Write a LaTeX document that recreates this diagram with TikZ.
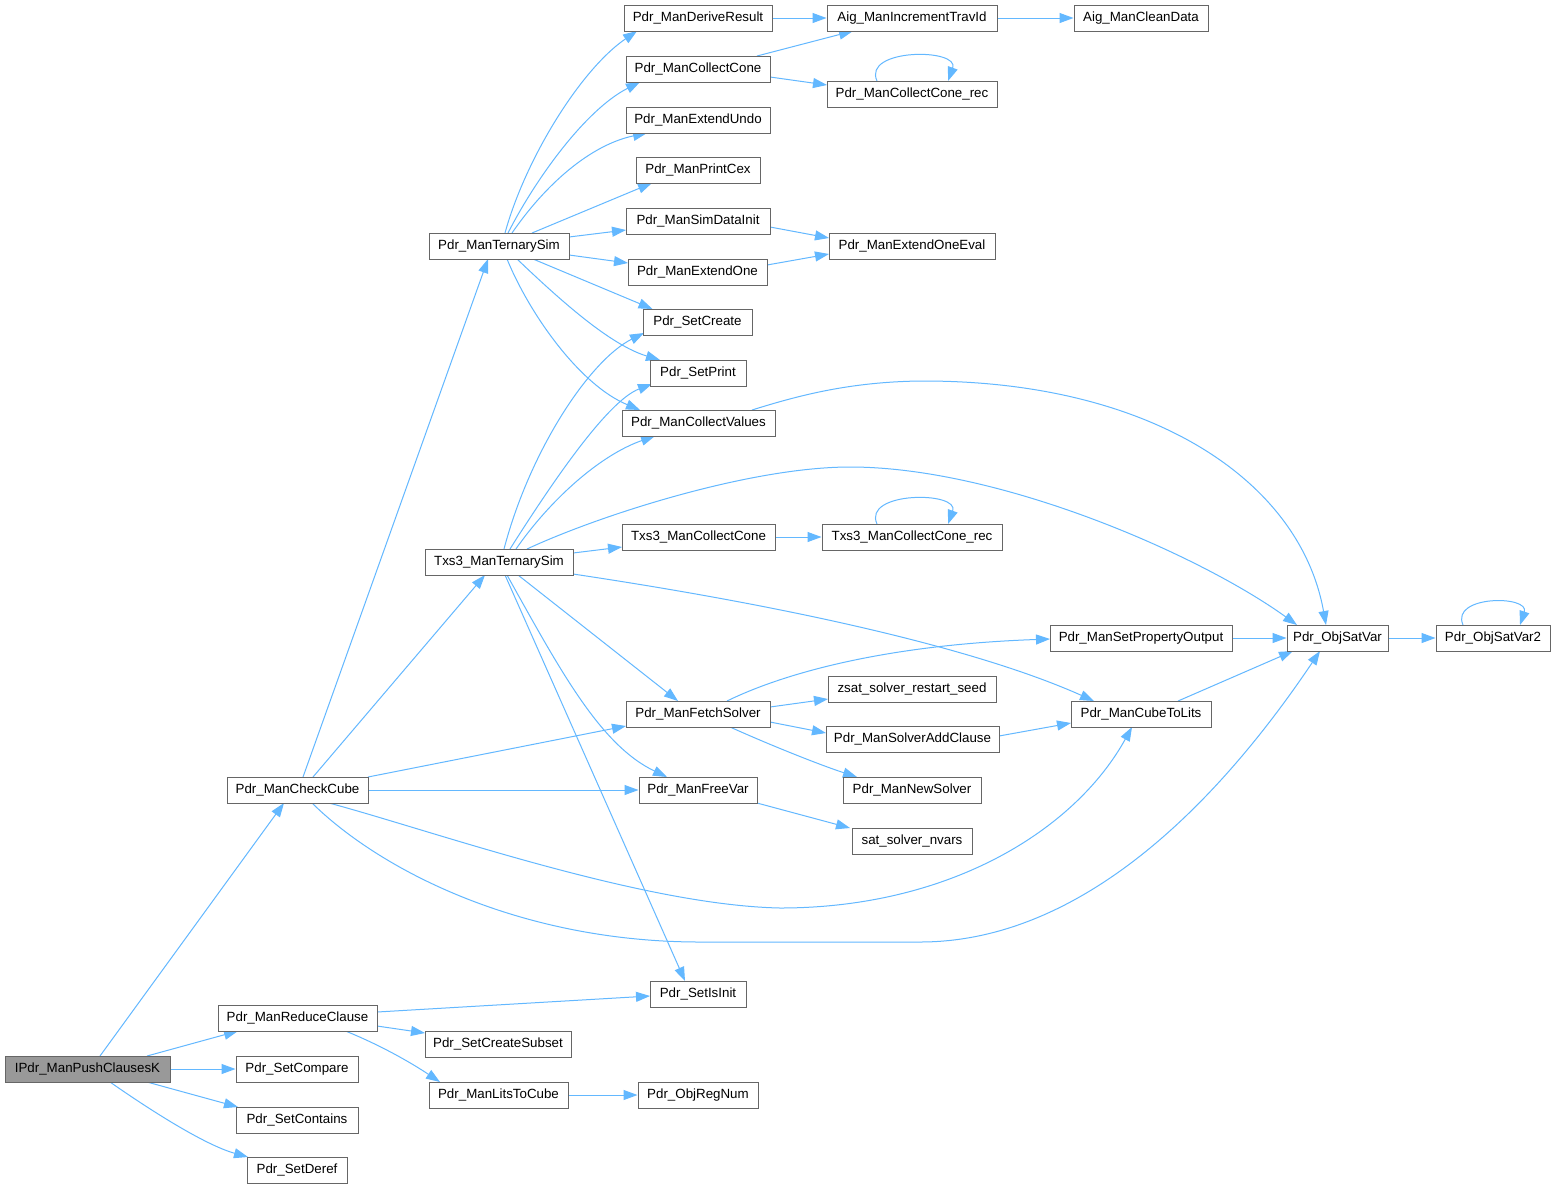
\documentclass[tikz,border=0pt]{standalone}
\usepackage{fontspec}
\setmainfont{Liberation Sans}
\usetikzlibrary{arrows.meta}
\definecolor{edgec}{HTML}{63B8FF}
\definecolor{nodeb}{HTML}{666666}
\definecolor{rootf}{HTML}{999999}
\pgfdeclarelayer{back}
\pgfdeclarelayer{bg}
\pgfsetlayers{back,bg,main}
\begin{document}
\begin{tikzpicture}[x=0.75pt,y=-0.75pt,
  box/.style={draw=nodeb, line width=0.75pt, fill=white, minimum height=19.5pt, inner sep=0pt,
    font=\fontsize{10pt}{12pt}\selectfont, text=black},
  root/.style={box, fill=rootf},
  W/.style={minimum width=#1*0.75pt},
  edge/.style={draw=edgec, line width=0.75pt, -{Triangle[length=10.5pt,width=7.5pt]}}]
\begin{pgfonlayer}{back}
\useasboundingbox[fill=white] (0,0) rectangle (1555,1189);
\end{pgfonlayer}

% nodes
\node[root,W=165] (n0) at (87.5,1069) {IPdr\_ManPushClausesK};
\node[box,W=141] (cc) at (297.5,790) {Pdr\_ManCheckCube};
\node[box,W=159] (rc) at (297.5,1018) {Pdr\_ManReduceClause};
\node[box,W=122] (scmp) at (297,1069) {Pdr\_SetCompare};
\node[box,W=122] (scont) at (297,1120) {Pdr\_SetContains};
\node[box,W=100] (sder) at (297,1170) {Pdr\_SetDeref};
\node[box,W=140] (ts) at (499,246) {Pdr\_ManTernarySim};
\node[box,W=148] (t3) at (499,562) {Txs3\_ManTernarySim};
\node[box,W=148] (dr) at (698,18) {Pdr\_ManDeriveResult};
\node[box,W=144] (pcc) at (698,69) {Pdr\_ManCollectCone};
\node[box,W=144] (eu) at (698,120) {Pdr\_ManExtendUndo};
\node[box,W=124] (pc) at (698,170) {Pdr\_ManPrintCex};
\node[box,W=144] (sdi) at (698,221) {Pdr\_ManSimDataInit};
\node[box,W=139] (eo) at (697.5,272) {Pdr\_ManExtendOne};
\node[box,W=109] (scr) at (697.5,322) {Pdr\_SetCreate};
\node[box,W=96] (spr) at (698,373) {Pdr\_SetPrint};
\node[box,W=153] (cv) at (698.5,423) {Pdr\_ManCollectValues};
\node[box,W=153] (tcc) at (698.5,537) {Txs3\_ManCollectCone};
\node[box,W=144] (fs) at (698,714) {Pdr\_ManFetchSolver};
\node[box,W=118] (fv) at (698,790) {Pdr\_ManFreeVar};
\node[box,W=96] (sii) at (698,994) {Pdr\_SetIsInit};
\node[box,W=146] (scs) at (498,1044) {Pdr\_SetCreateSubset};
\node[box,W=139] (ltc) at (498.5,1095) {Pdr\_ManLitsToCube};
\node[box,W=120] (orn) at (698,1095) {Pdr\_ObjRegNum};
\node[box,W=170] (ait) at (912,18) {Aig\_ManIncrementTravId};
\node[box,W=134] (acd) at (1141,18) {Aig\_ManCleanData};
\node[box,W=170] (ccr) at (912,94) {Pdr\_ManCollectCone\_rec};
\node[box,W=166] (eoe) at (912,246) {Pdr\_ManExtendOneEval};
\node[box,W=180] (tccr) at (912,537) {Txs3\_ManCollectCone\_rec};
\node[box,W=168] (zs) at (912,689) {zsat\_solver\_restart\_seed};
\node[box,W=173] (sac) at (912.5,739) {Pdr\_ManSolverAddClause};
\node[box,W=138] (ns) at (912,790) {Pdr\_ManNewSolver};
\node[box,W=120] (snv) at (912,841) {sat\_solver\_nvars};
\node[box,W=182] (spo) at (1141,638) {Pdr\_ManSetPropertyOutput};
\node[box,W=140] (ctl) at (1141,714) {Pdr\_ManCubeToLits};
\node[box,W=101] (osv) at (1337.5,638) {Pdr\_ObjSatVar};
\node[box,W=114] (osv2) at (1493,638) {Pdr\_ObjSatVar2};

\begin{pgfonlayer}{bg}
% root
\draw[edge] ([shift={(12.5,-13)}]n0.center) -- ([shift={(-13.5,13)}]cc.center);
\draw[edge] ([shift={(59.5,-13)}]n0.center) -- ([shift={(-59.5,13)}]rc.center);
\draw[edge] (n0.east) -- (scmp.west);
\draw[edge] ([shift={(59.5,13)}]n0.center) -- ([shift={(-59,-13)}]scont.center);
\draw[edge] ([shift={(22.5,13)}]n0.center) .. controls (150,1110) and (205,1145) .. ([shift={(-49,-13)}]sder.center);
% check cube
\draw[edge] ([shift={(5.5,-13)}]cc.center) -- ([shift={(-11,13)}]ts.center);
\draw[edge] ([shift={(15.5,-13)}]cc.center) -- ([shift={(-14,13)}]t3.center);
\draw[edge] ([shift={(70.5,-13)}]cc.center) -- ([shift={(-72,12)}]fs.center);
\draw[edge] (cc.east) -- (fv.west);
\draw[edge] ([shift={(31.5,13)}]cc.center) .. controls (430,830) and (640,905) .. (780,908)
  .. controls (950,908) and (1075,830) .. ([shift={(-9,13)}]ctl.center);
\draw[edge] ([shift={(14.5,13)}]cc.center) .. controls (380,870) and (520,942) .. (700,942)
  -- (920,942) .. controls (1100,942) and (1240,770) .. ([shift={(-17.5,13)}]osv.center);
% reduce clause
\draw[edge] ([shift={(79.5,-6)}]rc.center) -- ([shift={(-48,2)}]sii.center);
\draw[edge] ([shift={(79.5,8)}]rc.center) -- ([shift={(-73,-11)}]scs.center);
\draw[edge] ([shift={(48,13)}]rc.center) .. controls (380,1045) and (410,1062) .. ([shift={(-58.5,-13)}]ltc.center);
\draw[edge] (ltc.east) -- (orn.west);
% ternary sim
\draw[edge] ([shift={(6,-13)}]ts.center) .. controls (525,160) and (580,70) .. ([shift={(-61,13)}]dr.center);
\draw[edge] ([shift={(9,-13)}]ts.center) .. controls (535,180) and (585,110) .. ([shift={(-58,13)}]pcc.center);
\draw[edge] ([shift={(13,-13)}]ts.center) .. controls (545,185) and (590,145) .. ([shift={(-51,13)}]eu.center);
\draw[edge] ([shift={(33,-13)}]ts.center) -- ([shift={(-46,13)}]pc.center);
\draw[edge] ([shift={(70,-9)}]ts.center) -- ([shift={(-72,9)}]sdi.center);
\draw[edge] ([shift={(70,9)}]ts.center) -- ([shift={(-69.5,-9)}]eo.center);
\draw[edge] ([shift={(34,13)}]ts.center) -- ([shift={(-45,-13)}]scr.center);
\draw[edge] ([shift={(18,13)}]ts.center) .. controls (560,300) and (610,345) .. ([shift={(-38,-13)}]spr.center);
\draw[edge] ([shift={(8,13)}]ts.center) .. controls (530,315) and (580,385) .. ([shift={(-58.5,-13)}]cv.center);
% txs3 ternary sim
\draw[edge] ([shift={(5,-13)}]t3.center) .. controls (530,450) and (590,360) .. ([shift={(-53.5,11)}]scr.center);
\draw[edge] ([shift={(11,-13)}]t3.center) .. controls (560,470) and (610,400) .. ([shift={(-46,11)}]spr.center);
\draw[edge] ([shift={(17,-13)}]t3.center) .. controls (550,500) and (600,455) .. ([shift={(-43.5,13)}]cv.center);
\draw[edge] ([shift={(28,-13)}]t3.center) .. controls (600,515) and (750,467) .. (850,467)
  .. controls (1000,467) and (1200,555) .. ([shift={(-40.5,-13)}]osv.center);
\draw[edge] ([shift={(74,-9)}]t3.center) -- ([shift={(-76.5,10)}]tcc.center);
\draw[edge] ([shift={(74,12)}]t3.center) .. controls (800,608) and (980,650) .. ([shift={(-47,-13)}]ctl.center);
\draw[edge] ([shift={(19,13)}]t3.center) -- ([shift={(-20,-13)}]fs.center);
\draw[edge] ([shift={(8,13)}]t3.center) .. controls (560,670) and (600,745) .. ([shift={(-31,-13)}]fv.center);
\draw[edge] ([shift={(6,13)}]t3.center) -- ([shift={(-13,-13)}]sii.center);
% top right
\draw[edge] (dr.east) -- (ait.west);
\draw[edge] ([shift={(59,-13)}]pcc.center) -- ([shift={(-59,13)}]ait.center);
\draw[edge] ([shift={(72,8)}]pcc.center) -- ([shift={(-85,-9)}]ccr.center);
\draw[edge] (ait.east) -- (acd.west);
\draw[edge] ([shift={(-35,-13)}]ccr.center) .. controls (862,48) and (960,48) .. ([shift={(36,-13)}]ccr.center);
\draw[edge] ([shift={(72,6)}]sdi.center) -- ([shift={(-83,-8)}]eoe.center);
\draw[edge] ([shift={(69.5,-7)}]eo.center) -- ([shift={(-83,8)}]eoe.center);
\draw[edge] ([shift={(53.5,-13)}]cv.center) .. controls (800,395) and (850,382) .. (920,381)
  .. controls (1150,380) and (1300,480) .. ([shift={(-11.5,-13)}]osv.center);
\draw[edge] (tcc.east) -- (tccr.west);
\draw[edge] ([shift={(-35,-13)}]tccr.center) .. controls (862,491) and (960,491) .. ([shift={(36,-13)}]tccr.center);
% solver
\draw[edge] ([shift={(29,-13)}]fs.center) .. controls (780,675) and (880,645) .. ([shift={(-91,1)}]spo.center);
\draw[edge] ([shift={(72,-7)}]fs.center) -- ([shift={(-84,10)}]zs.center);
\draw[edge] ([shift={(72,8)}]fs.center) -- ([shift={(-86.5,-6)}]sac.center);
\draw[edge] ([shift={(32,13)}]fs.center) .. controls (770,745) and (820,765) .. ([shift={(-55,-13)}]ns.center);
\draw[edge] ([shift={(59,13)}]fv.center) -- ([shift={(-62,-13)}]snv.center);
\draw[edge] ([shift={(86.5,-3)}]sac.center) -- ([shift={(-70,9)}]ctl.center);
\draw[edge] (spo.east) -- (osv.west);
\draw[edge] ([shift={(37,-13)}]ctl.center) -- ([shift={(-44.5,13)}]osv.center);
\draw[edge] (osv.east) -- (osv2.west);
\draw[edge] ([shift={(-30,-13)}]osv2.center) .. controls (1450,595) and (1530,595) .. ([shift={(27,-13)}]osv2.center);
\end{pgfonlayer}
\end{tikzpicture}
\end{document}
